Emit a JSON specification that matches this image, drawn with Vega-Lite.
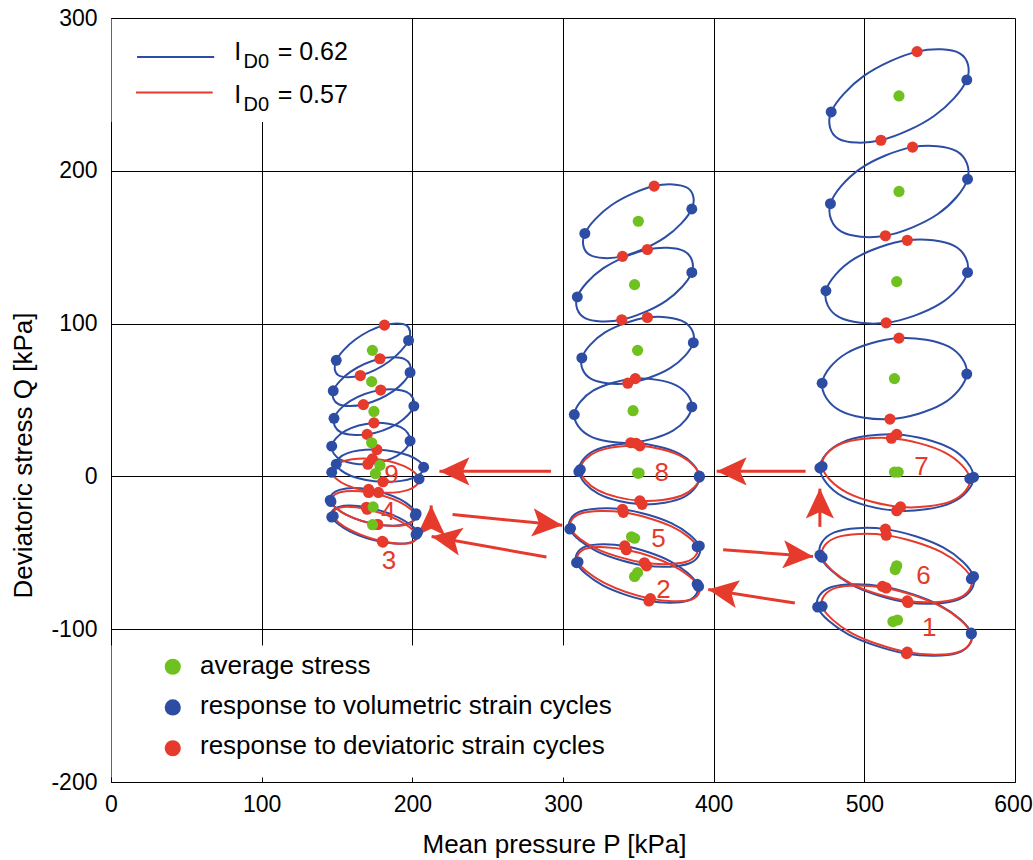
{
"$schema": "https://vega.github.io/schema/vega-lite/v6.json",
"width": 904, "height": 764,
"autosize": {"type": "none"},
"padding": {"left": 111, "top": 18, "right": 18, "bottom": 78},
"background": "white",
"config": {"view": {"stroke": "black", "strokeWidth": 1}, "font": "Liberation Sans"},
"resolve": {"axis": {"x": "independent", "y": "independent"}},
"datasets": {
"box": [{"p": 0.4, "p2": 170, "q": 232, "q2": 299.4}, {"p": 0.4, "p2": 351, "q": -199.6, "q2": -110.6}],
"ell": [
{"e":"Ra","s":"0.62","k":0,"p":568,"q":259.5},{"e":"Ra","s":"0.62","k":1,"p":563.3,"q":276.9},{"e":"Ra","s":"0.62","k":2,"p":535,"q":278},{"e":"Ra","s":"0.62","k":3,"p":499.7,"q":262.1},{"e":"Ra","s":"0.62","k":4,"p":478,"q":238.5},{"e":"Ra","s":"0.62","k":5,"p":482.7,"q":221.1},{"e":"Ra","s":"0.62","k":6,"p":511,"q":220},{"e":"Ra","s":"0.62","k":7,"p":546.3,"q":235.9},
{"e":"Rb","s":"0.62","k":0,"p":568.5,"q":194.5},{"e":"Rb","s":"0.62","k":1,"p":561.5,"q":212.7},{"e":"Rb","s":"0.62","k":2,"p":532,"q":215.5},{"e":"Rb","s":"0.62","k":3,"p":497.2,"q":201.3},{"e":"Rb","s":"0.62","k":4,"p":477.5,"q":178.5},{"e":"Rb","s":"0.62","k":5,"p":484.5,"q":160.3},{"e":"Rb","s":"0.62","k":6,"p":514,"q":157.5},{"e":"Rb","s":"0.62","k":7,"p":548.8,"q":171.7},
{"e":"Rc","s":"0.62","k":0,"p":568.5,"q":133.5},{"e":"Rc","s":"0.62","k":1,"p":559.7,"q":150.8},{"e":"Rc","s":"0.62","k":2,"p":528.5,"q":154.5},{"e":"Rc","s":"0.62","k":3,"p":493.2,"q":142.3},{"e":"Rc","s":"0.62","k":4,"p":474.5,"q":121.5},{"e":"Rc","s":"0.62","k":5,"p":483.3,"q":104.2},{"e":"Rc","s":"0.62","k":6,"p":514.5,"q":100.5},{"e":"Rc","s":"0.62","k":7,"p":549.8,"q":112.7},
{"e":"Rd","s":"0.62","k":0,"p":568,"q":67},{"e":"Rd","s":"0.62","k":1,"p":556.1,"q":84.9},{"e":"Rd","s":"0.62","k":2,"p":523,"q":90.5},{"e":"Rd","s":"0.62","k":3,"p":488.2,"q":80.6},{"e":"Rd","s":"0.62","k":4,"p":472,"q":61},{"e":"Rd","s":"0.62","k":5,"p":483.9,"q":43.1},{"e":"Rd","s":"0.62","k":6,"p":517,"q":37.5},{"e":"Rd","s":"0.62","k":7,"p":551.8,"q":47.4},
{"e":"R7b","s":"0.62","k":0,"p":572.5,"q":-0.5},{"e":"R7b","s":"0.62","k":1,"p":557.6,"q":18.1},{"e":"R7b","s":"0.62","k":2,"p":521.5,"q":27.5},{"e":"R7b","s":"0.62","k":3,"p":485.4,"q":22.3},{"e":"R7b","s":"0.62","k":4,"p":470.5,"q":5.5},{"e":"R7b","s":"0.62","k":5,"p":485.4,"q":-13.1},{"e":"R7b","s":"0.62","k":6,"p":521.5,"q":-22.5},{"e":"R7b","s":"0.62","k":7,"p":557.6,"q":-17.3},
{"e":"R6b","s":"0.62","k":0,"p":572.5,"q":-65.5},{"e":"R6b","s":"0.62","k":1,"p":552.3,"q":-46.5},{"e":"R6b","s":"0.62","k":2,"p":514,"q":-34.5},{"e":"R6b","s":"0.62","k":3,"p":480.1,"q":-36.6},{"e":"R6b","s":"0.62","k":4,"p":470.5,"q":-51.5},{"e":"R6b","s":"0.62","k":5,"p":490.7,"q":-70.5},{"e":"R6b","s":"0.62","k":6,"p":529,"q":-82.5},{"e":"R6b","s":"0.62","k":7,"p":562.9,"q":-80.4},
{"e":"R1b","s":"0.62","k":0,"p":571,"q":-102.5},{"e":"R1b","s":"0.62","k":1,"p":550.4,"q":-84.5},{"e":"R1b","s":"0.62","k":2,"p":512,"q":-72},{"e":"R1b","s":"0.62","k":3,"p":478.3,"q":-72.4},{"e":"R1b","s":"0.62","k":4,"p":469,"q":-85.5},{"e":"R1b","s":"0.62","k":5,"p":489.6,"q":-103.5},{"e":"R1b","s":"0.62","k":6,"p":528,"q":-116},{"e":"R1b","s":"0.62","k":7,"p":561.7,"q":-115.6},
{"e":"Ma","s":"0.62","k":0,"p":385.5,"q":175},{"e":"Ma","s":"0.62","k":1,"p":382.5,"q":188.9},{"e":"Ma","s":"0.62","k":2,"p":360.5,"q":190},{"e":"Ma","s":"0.62","k":3,"p":332.3,"q":177.6},{"e":"Ma","s":"0.62","k":4,"p":314.5,"q":159},{"e":"Ma","s":"0.62","k":5,"p":317.5,"q":145.1},{"e":"Ma","s":"0.62","k":6,"p":339.5,"q":144},{"e":"Ma","s":"0.62","k":7,"p":367.7,"q":156.4},
{"e":"Mb","s":"0.62","k":0,"p":385.5,"q":133.5},{"e":"Mb","s":"0.62","k":1,"p":380.4,"q":147.4},{"e":"Mb","s":"0.62","k":2,"p":356,"q":148.5},{"e":"Mb","s":"0.62","k":3,"p":326.6,"q":136.1},{"e":"Mb","s":"0.62","k":4,"p":309.5,"q":117.5},{"e":"Mb","s":"0.62","k":5,"p":314.6,"q":103.6},{"e":"Mb","s":"0.62","k":6,"p":339,"q":102.5},{"e":"Mb","s":"0.62","k":7,"p":368.4,"q":114.9},
{"e":"Mc","s":"0.62","k":0,"p":386.5,"q":87.5},{"e":"Mc","s":"0.62","k":1,"p":380.3,"q":101.2},{"e":"Mc","s":"0.62","k":2,"p":356,"q":104},{"e":"Mc","s":"0.62","k":3,"p":327.9,"q":94.2},{"e":"Mc","s":"0.62","k":4,"p":312.5,"q":77.5},{"e":"Mc","s":"0.62","k":5,"p":318.7,"q":63.8},{"e":"Mc","s":"0.62","k":6,"p":343,"q":61},{"e":"Mc","s":"0.62","k":7,"p":371.1,"q":70.8},
{"e":"Md","s":"0.62","k":0,"p":385.5,"q":45.5},{"e":"Md","s":"0.62","k":1,"p":375.1,"q":59.6},{"e":"Md","s":"0.62","k":2,"p":348,"q":64},{"e":"Md","s":"0.62","k":3,"p":320,"q":56.1},{"e":"Md","s":"0.62","k":4,"p":307.5,"q":40.5},{"e":"Md","s":"0.62","k":5,"p":317.9,"q":26.4},{"e":"Md","s":"0.62","k":6,"p":345,"q":22},{"e":"Md","s":"0.62","k":7,"p":373,"q":29.9},
{"e":"M8b","s":"0.62","k":0,"p":390.5,"q":0.2},{"e":"M8b","s":"0.62","k":1,"p":377.4,"q":14.8},{"e":"M8b","s":"0.62","k":2,"p":348.5,"q":21.7},{"e":"M8b","s":"0.62","k":3,"p":320.8,"q":16.9},{"e":"M8b","s":"0.62","k":4,"p":310.5,"q":3.2},{"e":"M8b","s":"0.62","k":5,"p":323.6,"q":-11.4},{"e":"M8b","s":"0.62","k":6,"p":352.5,"q":-18.3},{"e":"M8b","s":"0.62","k":7,"p":380.2,"q":-13.5},
{"e":"M5b","s":"0.62","k":0,"p":390.5,"q":-45.5},{"e":"M5b","s":"0.62","k":1,"p":372.2,"q":-30.8},{"e":"M5b","s":"0.62","k":2,"p":339.5,"q":-21.5},{"e":"M5b","s":"0.62","k":3,"p":311.4,"q":-23},{"e":"M5b","s":"0.62","k":4,"p":304.5,"q":-34.5},{"e":"M5b","s":"0.62","k":5,"p":322.8,"q":-49.2},{"e":"M5b","s":"0.62","k":6,"p":355.5,"q":-58.5},{"e":"M5b","s":"0.62","k":7,"p":383.6,"q":-57},
{"e":"M2b","s":"0.62","k":0,"p":389,"q":-70.5},{"e":"M2b","s":"0.62","k":1,"p":371.6,"q":-55.7},{"e":"M2b","s":"0.62","k":2,"p":341,"q":-45.5},{"e":"M2b","s":"0.62","k":3,"p":315.1,"q":-45.8},{"e":"M2b","s":"0.62","k":4,"p":309,"q":-56.5},{"e":"M2b","s":"0.62","k":5,"p":326.4,"q":-71.3},{"e":"M2b","s":"0.62","k":6,"p":357,"q":-81.5},{"e":"M2b","s":"0.62","k":7,"p":382.9,"q":-81.2},
{"e":"La","s":"0.62","k":0,"p":197.5,"q":89},{"e":"La","s":"0.62","k":1,"p":196.1,"q":98.8},{"e":"La","s":"0.62","k":2,"p":181.5,"q":99},{"e":"La","s":"0.62","k":3,"p":162.2,"q":89.6},{"e":"La","s":"0.62","k":4,"p":149.5,"q":76},{"e":"La","s":"0.62","k":5,"p":150.9,"q":66.2},{"e":"La","s":"0.62","k":6,"p":165.5,"q":66},{"e":"La","s":"0.62","k":7,"p":184.8,"q":75.4},
{"e":"Lb","s":"0.62","k":0,"p":198.5,"q":68},{"e":"Lb","s":"0.62","k":1,"p":194.9,"q":76.8},{"e":"Lb","s":"0.62","k":2,"p":178.5,"q":77},{"e":"Lb","s":"0.62","k":3,"p":158.9,"q":68.4},{"e":"Lb","s":"0.62","k":4,"p":147.5,"q":56},{"e":"Lb","s":"0.62","k":5,"p":151.1,"q":47.2},{"e":"Lb","s":"0.62","k":6,"p":167.5,"q":47},{"e":"Lb","s":"0.62","k":7,"p":187.1,"q":55.6},
{"e":"Lc","s":"0.62","k":0,"p":201,"q":46},{"e":"Lc","s":"0.62","k":1,"p":196.4,"q":55.1},{"e":"Lc","s":"0.62","k":2,"p":179,"q":56.5},{"e":"Lc","s":"0.62","k":3,"p":158.9,"q":49.4},{"e":"Lc","s":"0.62","k":4,"p":148,"q":38},{"e":"Lc","s":"0.62","k":5,"p":152.6,"q":28.9},{"e":"Lc","s":"0.62","k":6,"p":170,"q":27.5},{"e":"Lc","s":"0.62","k":7,"p":190.1,"q":34.6},
{"e":"Ld","s":"0.62","k":0,"p":198.5,"q":23.2},{"e":"Ld","s":"0.62","k":1,"p":192.3,"q":32.2},{"e":"Ld","s":"0.62","k":2,"p":174.5,"q":35},{"e":"Ld","s":"0.62","k":3,"p":155.5,"q":29.8},{"e":"Ld","s":"0.62","k":4,"p":146.5,"q":19.8},{"e":"Ld","s":"0.62","k":5,"p":152.7,"q":10.8},{"e":"Ld","s":"0.62","k":6,"p":170.5,"q":8},{"e":"Ld","s":"0.62","k":7,"p":189.5,"q":13.2},
{"e":"L9b","s":"0.62","k":0,"p":207.5,"q":6},{"e":"L9b","s":"0.62","k":1,"p":197.6,"q":13.7},{"e":"L9b","s":"0.62","k":2,"p":176.5,"q":17.5},{"e":"L9b","s":"0.62","k":3,"p":156.6,"q":15.1},{"e":"L9b","s":"0.62","k":4,"p":149.5,"q":8},{"e":"L9b","s":"0.62","k":5,"p":159.4,"q":0.3},{"e":"L9b","s":"0.62","k":6,"p":180.5,"q":-3.5},{"e":"L9b","s":"0.62","k":7,"p":200.4,"q":-1.1},
{"e":"L4b","s":"0.62","k":0,"p":202.5,"q":-24.4},{"e":"L4b","s":"0.62","k":1,"p":192,"q":-15},{"e":"L4b","s":"0.62","k":2,"p":171,"q":-8.5},{"e":"L4b","s":"0.62","k":3,"p":151.7,"q":-8.8},{"e":"L4b","s":"0.62","k":4,"p":145.5,"q":-15.6},{"e":"L4b","s":"0.62","k":5,"p":156,"q":-25},{"e":"L4b","s":"0.62","k":6,"p":177,"q":-31.5},{"e":"L4b","s":"0.62","k":7,"p":196.3,"q":-31.2},
{"e":"L3b","s":"0.62","k":0,"p":203.5,"q":-36.6},{"e":"L3b","s":"0.62","k":1,"p":191.3,"q":-27.1},{"e":"L3b","s":"0.62","k":2,"p":169.5,"q":-20.2},{"e":"L3b","s":"0.62","k":3,"p":151,"q":-20},{"e":"L3b","s":"0.62","k":4,"p":146.5,"q":-26.6},{"e":"L3b","s":"0.62","k":5,"p":158.7,"q":-36.1},{"e":"L3b","s":"0.62","k":6,"p":180.5,"q":-43},{"e":"L3b","s":"0.62","k":7,"p":199,"q":-43.2},
{"e":"R7r","s":"0.57","k":0,"p":570,"q":-1.5},{"e":"R7r","s":"0.57","k":1,"p":553.5,"q":15.6},{"e":"R7r","s":"0.57","k":2,"p":518,"q":25},{"e":"R7r","s":"0.57","k":3,"p":484.2,"q":21.2},{"e":"R7r","s":"0.57","k":4,"p":472,"q":6.5},{"e":"R7r","s":"0.57","k":5,"p":488.5,"q":-10.6},{"e":"R7r","s":"0.57","k":6,"p":524,"q":-20},{"e":"R7r","s":"0.57","k":7,"p":557.8,"q":-16.2},
{"e":"R6r","s":"0.57","k":0,"p":571,"q":-67},{"e":"R6r","s":"0.57","k":1,"p":551.5,"q":-49.7},{"e":"R6r","s":"0.57","k":2,"p":514.5,"q":-38.5},{"e":"R6r","s":"0.57","k":3,"p":481.6,"q":-39.9},{"e":"R6r","s":"0.57","k":4,"p":472,"q":-53},{"e":"R6r","s":"0.57","k":5,"p":491.5,"q":-70.3},{"e":"R6r","s":"0.57","k":6,"p":528.5,"q":-81.5},{"e":"R6r","s":"0.57","k":7,"p":561.4,"q":-80.1},
{"e":"R1r","s":"0.57","k":0,"p":571,"q":-103},{"e":"R1r","s":"0.57","k":1,"p":551.5,"q":-85.5},{"e":"R1r","s":"0.57","k":2,"p":514.5,"q":-73},{"e":"R1r","s":"0.57","k":3,"p":481.6,"q":-72.8},{"e":"R1r","s":"0.57","k":4,"p":472,"q":-85},{"e":"R1r","s":"0.57","k":5,"p":491.5,"q":-102.5},{"e":"R1r","s":"0.57","k":6,"p":528.5,"q":-115},{"e":"R1r","s":"0.57","k":7,"p":561.4,"q":-115.2},
{"e":"M8r","s":"0.57","k":0,"p":390.5,"q":-0.5},{"e":"M8r","s":"0.57","k":1,"p":378.9,"q":13},{"e":"M8r","s":"0.57","k":2,"p":351,"q":20},{"e":"M8r","s":"0.57","k":3,"p":323.1,"q":16.5},{"e":"M8r","s":"0.57","k":4,"p":311.5,"q":4.5},{"e":"M8r","s":"0.57","k":5,"p":323.1,"q":-9},{"e":"M8r","s":"0.57","k":6,"p":351,"q":-16},{"e":"M8r","s":"0.57","k":7,"p":378.9,"q":-12.5},
{"e":"M5r","s":"0.57","k":0,"p":389,"q":-46},{"e":"M5r","s":"0.57","k":1,"p":371.7,"q":-32.6},{"e":"M5r","s":"0.57","k":2,"p":340,"q":-23.5},{"e":"M5r","s":"0.57","k":3,"p":312.4,"q":-24.1},{"e":"M5r","s":"0.57","k":4,"p":305,"q":-34},{"e":"M5r","s":"0.57","k":5,"p":322.3,"q":-47.4},{"e":"M5r","s":"0.57","k":6,"p":354,"q":-56.5},{"e":"M5r","s":"0.57","k":7,"p":381.6,"q":-55.9},
{"e":"M2r","s":"0.57","k":0,"p":390,"q":-72},{"e":"M2r","s":"0.57","k":1,"p":372.6,"q":-58.3},{"e":"M2r","s":"0.57","k":2,"p":342,"q":-48},{"e":"M2r","s":"0.57","k":3,"p":316.1,"q":-47},{"e":"M2r","s":"0.57","k":4,"p":310,"q":-56},{"e":"M2r","s":"0.57","k":5,"p":327.4,"q":-69.7},{"e":"M2r","s":"0.57","k":6,"p":358,"q":-80},{"e":"M2r","s":"0.57","k":7,"p":383.9,"q":-81},
{"e":"L9r","s":"0.57","k":0,"p":204.5,"q":-1.7},{"e":"L9r","s":"0.57","k":1,"p":194.6,"q":6.7},{"e":"L9r","s":"0.57","k":2,"p":173.5,"q":11.5},{"e":"L9r","s":"0.57","k":3,"p":153.6,"q":9.8},{"e":"L9r","s":"0.57","k":4,"p":146.5,"q":2.7},{"e":"L9r","s":"0.57","k":5,"p":156.4,"q":-5.7},{"e":"L9r","s":"0.57","k":6,"p":177.5,"q":-10.5},{"e":"L9r","s":"0.57","k":7,"p":197.4,"q":-8.8},
{"e":"L4r","s":"0.57","k":0,"p":202,"q":-25.5},{"e":"L4r","s":"0.57","k":1,"p":191.7,"q":-16.8},{"e":"L4r","s":"0.57","k":2,"p":171,"q":-10.5},{"e":"L4r","s":"0.57","k":3,"p":152.1,"q":-10.4},{"e":"L4r","s":"0.57","k":4,"p":146,"q":-16.5},{"e":"L4r","s":"0.57","k":5,"p":156.3,"q":-25.2},{"e":"L4r","s":"0.57","k":6,"p":177,"q":-31.5},{"e":"L4r","s":"0.57","k":7,"p":195.9,"q":-31.6},
{"e":"L3r","s":"0.57","k":0,"p":202.5,"q":-38},{"e":"L3r","s":"0.57","k":1,"p":190.9,"q":-28.8},{"e":"L3r","s":"0.57","k":2,"p":170,"q":-21.5},{"e":"L3r","s":"0.57","k":3,"p":152,"q":-20.3},{"e":"L3r","s":"0.57","k":4,"p":147.5,"q":-26},{"e":"L3r","s":"0.57","k":5,"p":159.1,"q":-35.2},{"e":"L3r","s":"0.57","k":6,"p":180,"q":-42.5},{"e":"L3r","s":"0.57","k":7,"p":198,"q":-43.7}
],
"ctr": [
{"p":523,"q":249},{"p":523,"q":186.5},{"p":521.5,"q":127.5},{"p":520,"q":64},{"p":520,"q":2.8},{"p":522.5,"q":2.8},{"p":521.5,"q":-58.5},{"p":520.5,"q":-61},{"p":519,"q":-95},{"p":522,"q":-94},
{"p":350,"q":167},{"p":347.5,"q":125.5},{"p":349.5,"q":82.5},{"p":346.5,"q":43},{"p":349.5,"q":2.2},{"p":350.5,"q":2.2},{"p":345.5,"q":-39.5},{"p":347.5,"q":-40.5},{"p":347.5,"q":-65.5},{"p":349.5,"q":-63},
{"p":173.5,"q":82.5},{"p":173,"q":62},{"p":174.5,"q":42.5},{"p":173,"q":22},{"p":178.5,"q":7.2},{"p":175.5,"q":1.8},{"p":174,"q":-20},{"p":173.6,"q":-31.6}
],
"arr": [
{"p":292,"q":3.3,"p2":218,"q2":3.3,"h":270},
{"p":461,"q":3.3,"p2":402,"q2":3.3,"h":270},
{"p":470.5,"q":-33,"p2":470.5,"q2":-8,"h":0},
{"p":226.7,"q":-25,"p2":299.5,"q2":-32,"h":95.6},
{"p":289,"q":-52.8,"p2":212.8,"q2":-39.3,"h":280},
{"p":406.3,"q":-48,"p2":466,"q2":-52.4,"h":94.3},
{"p":453.9,"q":-82.9,"p2":396.4,"q2":-74,"h":279},
{"p":212.5,"q":-34,"p2":212.5,"q2":-19,"h":0}
],
"num": [
{"t":"1","p":543,"q":-99.5},{"t":"2","p":366.7,"q":-74.6},{"t":"3","p":184.5,"q":-55.6},{"t":"4","p":184,"q":-23.4},{"t":"5","p":363.3,"q":-40.8},{"t":"6","p":539.2,"q":-65},{"t":"7","p":538,"q":6},{"t":"8","p":365.5,"q":2.2},{"t":"9","p":186.2,"q":0.7}
],
"lgl": [{"s":"0.62","p":17.3,"p2":68.5,"q":274.5},{"s":"0.57","p":16.6,"p2":67.5,"q":251.3}],
"lgt": [{"t":"I","p":81.8,"q":272.3},{"t":"= 0.62","p":110.6,"q":272.3},{"t":"I","p":81.8,"q":244.2},{"t":"= 0.57","p":110.6,"q":244.2}],
"lgs": [{"t":"D0","p":87.9,"q":267.5},{"t":"D0","p":87.9,"q":239.2}],
"lgd": [{"c":"avg","t":"average stress","p":41,"q":-124.6,"tq":-129.6},{"c":"vol","t":"response to volumetric strain cycles","p":41,"q":-151.2,"tq":-155.8},{"c":"dev","t":"response to deviatoric strain cycles","p":41,"q":-177.9,"tq":-182}]
},
"layer": [
{
"data": {"name": "box"},
"mark": {"type": "rect", "fill": "white", "stroke": null},
"encoding": {
"x": {"field": "p", "type": "quantitative", "scale": {"domain": [0, 600], "nice": false, "zero": false},
"axis": {"orient": "bottom", "grid": false, "zindex": 1, "domain": false, "ticks": true, "tickSize": -5, "tickColor": "black", "tickWidth": 1, "values": [0,100,200,300,400,500,600], "labelPadding": 16, "labelFontSize": 23, "labelColor": "black", "labelFlush": false, "labelOverlap": false, "labelBound": false, "labelOffset": {"condition": {"test": "datum.value === 600", "value": -2}, "value": 0}, "labelExpr": "'' + datum.value", "title": "Mean pressure P [kPa]", "titleFontSize": 26, "titleFontWeight": "normal", "titleColor": "black", "titleX": 443, "titleY": 70, "titleBaseline": "alphabetic", "titleAlign": "center"}},
"x2": {"field": "p2"},
"y": {"field": "q", "type": "quantitative", "scale": {"domain": [-200, 300], "nice": false, "zero": false},
"axis": {"orient": "left", "grid": false, "zindex": 1, "domain": false, "ticks": true, "tickSize": -5, "tickColor": "black", "tickWidth": 1, "values": [-200,-100,0,100,200,300], "labelPadding": 19, "labelFontSize": 23, "labelColor": "black", "labelFlush": false, "labelOverlap": false, "labelExpr": "'' + datum.value", "title": "Deviatoric stress Q [kPa]", "titleFontSize": 26, "titleFontWeight": "normal", "titleColor": "black", "titleX": -80, "titleY": 437, "titleAngle": -90, "titleBaseline": "alphabetic", "titleAlign": "center"}},
"y2": {"field": "q2"}
}
},
{
"data": {"name": "ell"},
"mark": {"type": "line", "interpolate": "cardinal-closed", "strokeWidth": 2},
"encoding": {
"x": {"field": "p", "type": "quantitative", "scale": {"domain": [0, 600], "nice": false, "zero": false},
"axis": {"orient": "top", "grid": true, "gridColor": "black", "gridOpacity": 1, "gridWidth": 1, "zindex": 0, "domain": false, "ticks": false, "labels": false, "title": null, "values": [100,200,300,400,500]}},
"y": {"field": "q", "type": "quantitative", "scale": {"domain": [-200, 300], "nice": false, "zero": false},
"axis": {"orient": "right", "grid": true, "gridColor": "black", "gridOpacity": 1, "gridWidth": 1, "zindex": 0, "domain": false, "ticks": false, "labels": false, "title": null, "values": [-100,0,100,200]}},
"detail": {"field": "e"},
"order": {"field": "k", "type": "quantitative"},
"color": {"field": "s", "type": "nominal", "scale": {"domain": ["0.62", "0.57"], "range": ["#2D4DA5", "#E53A2C"]}, "legend": null}
}
},
{
"data": {"name": "arr"},
"mark": {"type": "rule", "color": "#E53A2C", "strokeWidth": 3},
"encoding": {
"x": {"field": "p", "type": "quantitative", "scale": {"domain": [0, 600], "nice": false, "zero": false}, "axis": null},
"y": {"field": "q", "type": "quantitative", "scale": {"domain": [-200, 300], "nice": false, "zero": false}, "axis": null},
"x2": {"field": "p2"},
"y2": {"field": "q2"}
}
},
{
"data": {"name": "arr"},
"mark": {"type": "point", "shape": "M0,0L0.47,1L0,0.78L-0.47,1Z", "filled": true, "color": "#E53A2C", "opacity": 1, "size": 3600, "strokeWidth": 0},
"encoding": {
"x": {"field": "p2", "type": "quantitative", "scale": {"domain": [0, 600], "nice": false, "zero": false}, "axis": null},
"y": {"field": "q2", "type": "quantitative", "scale": {"domain": [-200, 300], "nice": false, "zero": false}, "axis": null},
"angle": {"field": "h", "type": "quantitative", "scale": null}
}
},
{
"data": {"name": "ell"},
"transform": [{"filter": "datum.k == 0 || datum.k == 4"}],
"mark": {"type": "circle", "color": "#2D4DA5", "opacity": 1, "size": 120},
"encoding": {
"x": {"field": "p", "type": "quantitative", "scale": {"domain": [0, 600], "nice": false, "zero": false}, "axis": null},
"y": {"field": "q", "type": "quantitative", "scale": {"domain": [-200, 300], "nice": false, "zero": false}, "axis": null}
}
},
{
"data": {"name": "ell"},
"transform": [{"filter": "datum.k == 2 || datum.k == 6"}],
"mark": {"type": "circle", "color": "#E53A2C", "opacity": 1, "size": 125},
"encoding": {
"x": {"field": "p", "type": "quantitative", "scale": {"domain": [0, 600], "nice": false, "zero": false}, "axis": null},
"y": {"field": "q", "type": "quantitative", "scale": {"domain": [-200, 300], "nice": false, "zero": false}, "axis": null}
}
},
{
"data": {"name": "ctr"},
"mark": {"type": "circle", "color": "#6EC11E", "opacity": 1, "size": 125},
"encoding": {
"x": {"field": "p", "type": "quantitative", "scale": {"domain": [0, 600], "nice": false, "zero": false}, "axis": null},
"y": {"field": "q", "type": "quantitative", "scale": {"domain": [-200, 300], "nice": false, "zero": false}, "axis": null}
}
},
{
"data": {"name": "num"},
"mark": {"type": "text", "color": "#E53A2C", "fontSize": 26, "align": "center", "baseline": "middle"},
"encoding": {
"x": {"field": "p", "type": "quantitative", "scale": {"domain": [0, 600], "nice": false, "zero": false}, "axis": null},
"y": {"field": "q", "type": "quantitative", "scale": {"domain": [-200, 300], "nice": false, "zero": false}, "axis": null},
"text": {"field": "t"}
}
},
{
"data": {"name": "lgl"},
"mark": {"type": "rule", "strokeWidth": 2},
"encoding": {
"x": {"field": "p", "type": "quantitative", "scale": {"domain": [0, 600], "nice": false, "zero": false}, "axis": null},
"x2": {"field": "p2"},
"y": {"field": "q", "type": "quantitative", "scale": {"domain": [-200, 300], "nice": false, "zero": false}, "axis": null},
"color": {"field": "s", "type": "nominal", "scale": {"domain": ["0.62", "0.57"], "range": ["#2D4DA5", "#E53A2C"]}, "legend": null}
}
},
{
"data": {"name": "lgt"},
"mark": {"type": "text", "color": "black", "fontSize": 25, "align": "left", "baseline": "alphabetic"},
"encoding": {
"x": {"field": "p", "type": "quantitative", "scale": {"domain": [0, 600], "nice": false, "zero": false}, "axis": null},
"y": {"field": "q", "type": "quantitative", "scale": {"domain": [-200, 300], "nice": false, "zero": false}, "axis": null},
"text": {"field": "t"}
}
},
{
"data": {"name": "lgs"},
"mark": {"type": "text", "color": "black", "fontSize": 20, "align": "left", "baseline": "alphabetic"},
"encoding": {
"x": {"field": "p", "type": "quantitative", "scale": {"domain": [0, 600], "nice": false, "zero": false}, "axis": null},
"y": {"field": "q", "type": "quantitative", "scale": {"domain": [-200, 300], "nice": false, "zero": false}, "axis": null},
"text": {"field": "t"}
}
},
{
"data": {"name": "lgd"},
"mark": {"type": "circle", "opacity": 1, "size": 260},
"encoding": {
"x": {"field": "p", "type": "quantitative", "scale": {"domain": [0, 600], "nice": false, "zero": false}, "axis": null},
"y": {"field": "q", "type": "quantitative", "scale": {"domain": [-200, 300], "nice": false, "zero": false}, "axis": null},
"fill": {"field": "c", "type": "nominal", "scale": {"domain": ["avg", "vol", "dev"], "range": ["#6EC11E", "#2D4DA5", "#E53A2C"]}, "legend": null}
}
},
{
"data": {"name": "lgd"},
"mark": {"type": "text", "color": "black", "fontSize": 26, "align": "left", "baseline": "alphabetic"},
"encoding": {
"x": {"value": 89},
"y": {"field": "tq", "type": "quantitative", "scale": {"domain": [-200, 300], "nice": false, "zero": false}, "axis": null},
"text": {"field": "t"}
}
}
]
}
